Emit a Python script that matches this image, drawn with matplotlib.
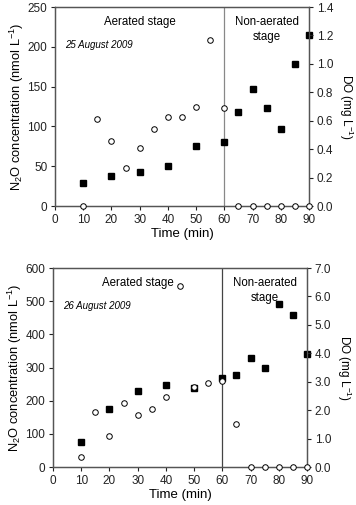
import matplotlib
matplotlib.use("Agg")
import matplotlib.pyplot as plt
from matplotlib.ticker import FormatStrFormatter

plt.rcParams["font.family"] = ["Liberation Sans", "DejaVu Sans"]
plt.rcParams["font.size"] = 8
plt.rcParams["mathtext.fontset"] = "custom"
plt.rcParams["mathtext.rm"] = "Liberation Sans"

# 25 August 2009
time_n2o = [10, 20, 30, 40, 50, 60, 65, 70, 75, 80, 85, 90]
n2o_aug25 = [29, 38, 43, 50, 76, 80, 118, 147, 123, 97, 179, 215]
time_do = [10, 15, 20, 25, 30, 35, 40, 45, 50, 55, 60, 65, 70, 75, 80, 85, 90]
do_aug25 = [0.0, 0.61, 0.46, 0.27, 0.41, 0.54, 0.63, 0.63, 0.70, 1.17, 0.69,
            0.0, 0.0, 0.0, 0.0, 0.0, 0.0]

# 26 August 2009
n2o_aug26 = [75, 176, 228, 247, 238, 268, 279, 328, 300, 493, 457, 340]
do_aug26 = [0.37, 1.94, 1.09, 2.25, 1.84, 2.04, 2.46, 6.37, 2.82, 2.94, 3.01,
            1.52, 0.0, 0.0, 0.0, 0.0, 0.0]

panels = [
    dict(rect=[0.1545, 0.592, 0.7135, 0.394], n2o=n2o_aug25, do=do_aug25,
         ylim=250, yticks=range(0, 251, 50), dolim=1.4, doticks=[i * 0.2 for i in range(8)],
         date="25 August 2009", vcolor="#888888"),
    dict(rect=[0.149, 0.0752, 0.7135, 0.394], n2o=n2o_aug26, do=do_aug26,
         ylim=600, yticks=range(0, 601, 100), dolim=7.0, doticks=[float(i) for i in range(8)],
         date="26 August 2009", vcolor="#444444"),
]

fig = plt.figure(figsize=(3.56, 5.05), dpi=100)
for p in panels:
    ax = fig.add_axes(p["rect"])
    ax2 = ax.twinx()
    ax.plot(time_n2o, p["n2o"], "s", color="black", markersize=4.2, clip_on=False, zorder=3)
    ax2.plot(time_do, p["do"], "o", mfc="white", mec="black", mew=0.7,
             markersize=4, clip_on=False, zorder=3)
    ax.axvline(60, color=p["vcolor"], lw=0.9)
    ax.set_xlim(0, 90)
    ax.set_ylim(0, p["ylim"])
    ax2.set_ylim(0, p["dolim"])
    ax.set_xticks(range(0, 91, 10))
    ax.set_yticks(list(p["yticks"]))
    ax2.set_yticks(p["doticks"])
    ax2.yaxis.set_major_formatter(FormatStrFormatter("%.1f"))
    for a in (ax, ax2):
        a.tick_params(direction="out", length=3, width=0.8, labelsize=8.5, colors="#222222", pad=2.5)
        for s in a.spines.values():
            s.set_color("#555555")
            s.set_linewidth(0.9)
    ax.set_xlabel("Time (min)", fontsize=9.5, labelpad=2)
    ax.set_ylabel("N$_2$O concentration (nmol L$^{-1}$)", fontsize=9.3, labelpad=1)
    ax2.set_ylabel("DO (mg L$^{-1}$)", fontsize=8.5, rotation=270, va="center")
    ax2.yaxis.set_label_coords(1.145, 0.5)
    ax.text(30, 0.955, "Aerated stage", transform=ax.get_xaxis_transform(),
            ha="center", va="top", fontsize=8.3)
    ax.text(75, 0.955, "Non-aerated\nstage", transform=ax.get_xaxis_transform(),
            ha="center", va="top", fontsize=8.3, linespacing=1.3)
    ax.text(3.5, 0.81, p["date"], transform=ax.get_xaxis_transform(),
            ha="left", va="center", fontsize=7, style="italic")

fig.savefig("out.png", dpi=100)
